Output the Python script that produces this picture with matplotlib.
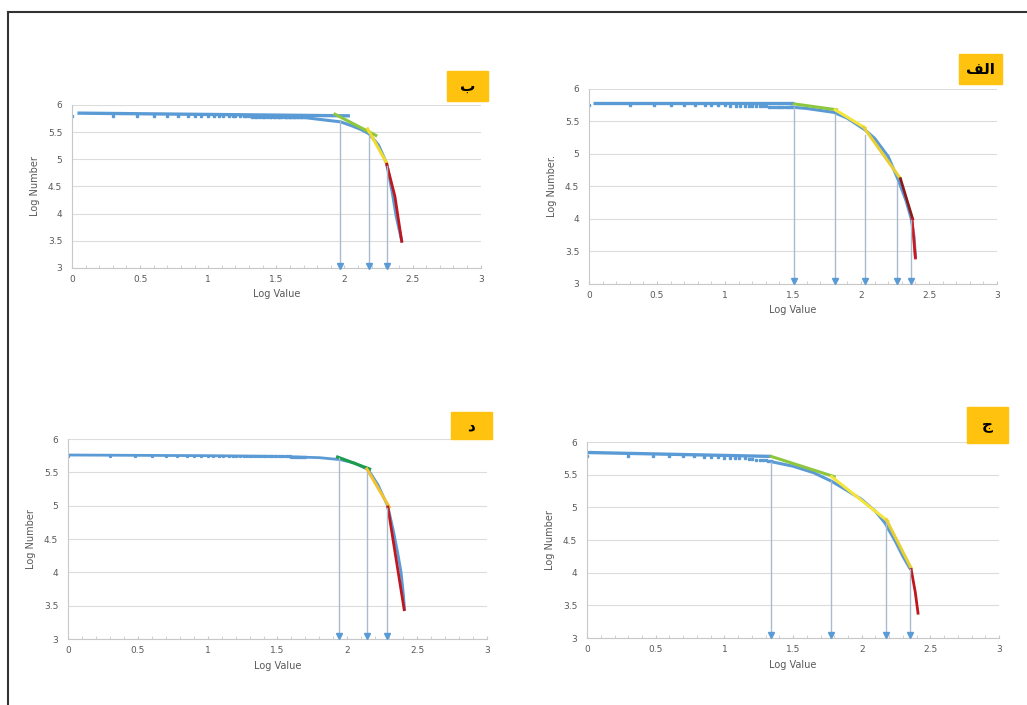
import matplotlib
matplotlib.use('Agg')
import matplotlib.pyplot as plt
from matplotlib.lines import Line2D
from matplotlib.patches import Rectangle

plt.rcParams['font.family'] = ['DejaVu Sans']

BLUE = '#5b9bd5'
ARROW = '#aabbcc'

# shared x positions of the scattered points
dot_x = [0, 0.30, 0.48, 0.60, 0.70, 0.78, 0.85, 0.90, 0.95, 1.00,
         1.04, 1.08, 1.11, 1.15, 1.18, 1.20, 1.23, 1.26, 1.28, 1.30,
         1.32, 1.34, 1.36, 1.38, 1.40, 1.41, 1.43, 1.45, 1.46, 1.48,
         1.49, 1.51, 1.52, 1.53, 1.54, 1.56, 1.57, 1.58, 1.59, 1.60,
         1.61, 1.62, 1.63, 1.64, 1.65, 1.66, 1.67, 1.68, 1.69, 1.70]

# ---- panel ب (top left)
be_dot_y = [5.80, 5.80, 5.80, 5.80, 5.80, 5.80, 5.80, 5.80, 5.79, 5.79,
            5.79, 5.79, 5.79, 5.79, 5.79, 5.79, 5.79, 5.79, 5.79, 5.79,
            5.78, 5.78, 5.78, 5.78, 5.78, 5.78, 5.78, 5.78, 5.78, 5.78,
            5.78, 5.78, 5.78, 5.78, 5.78, 5.78, 5.78, 5.78, 5.78, 5.78,
            5.77, 5.77, 5.77, 5.77, 5.77, 5.77, 5.77, 5.77, 5.77, 5.77]
be_curve_x = [1.70, 1.80, 1.90, 1.97, 2.05, 2.12, 2.18, 2.25, 2.31, 2.35, 2.38, 2.42]
be_curve_y = [5.77, 5.74, 5.71, 5.69, 5.62, 5.55, 5.47, 5.26, 4.92, 4.40, 3.95, 3.50]
be_flat_x = [0.04, 2.04]
be_flat_y = [5.85, 5.80]
be_green_x = [1.93, 2.23]
be_green_y = [5.83, 5.44]
be_yellow_x = [2.17, 2.31]
be_yellow_y = [5.56, 4.93]
be_red_x = [2.31, 2.37, 2.42]
be_red_y = [4.91, 4.32, 3.49]
be_arrow_x = [1.965, 2.178, 2.312]
be_arrow_top = [5.71, 5.46, 4.88]

# ---- panel الف (top right)
alef_dot_y = [5.75, 5.75, 5.75, 5.75, 5.75, 5.75, 5.75, 5.75, 5.75, 5.75,
              5.74, 5.74, 5.74, 5.74, 5.74, 5.74, 5.74, 5.74, 5.74, 5.74,
              5.73, 5.73, 5.73, 5.73, 5.73, 5.73, 5.73, 5.73, 5.73, 5.72,
              5.72]
alef_curve_x = [1.49, 1.60, 1.70, 1.80, 1.90, 2.03, 2.10, 2.20, 2.27, 2.33, 2.37, 2.39, 2.40]
alef_curve_y = [5.72, 5.70, 5.67, 5.64, 5.55, 5.37, 5.24, 4.96, 4.62, 4.29, 4.00, 3.72, 3.42]
alef_flat_x = [0.03, 1.51]
alef_flat_y = [5.78, 5.78]
alef_green_x = [1.51, 1.82]
alef_green_y = [5.77, 5.68]
alef_yellow1_x = [1.81, 2.03]
alef_yellow1_y = [5.68, 5.40]
alef_yellow2_x = [2.02, 2.29]
alef_yellow2_y = [5.41, 4.62]
alef_dred_x = [2.29, 2.38]
alef_dred_y = [4.62, 4.00]
alef_red_x = [2.375, 2.40]
alef_red_y = [4.00, 3.40]
alef_arrow_x = [1.511, 1.811, 2.03, 2.265, 2.366]
alef_arrow_top = [5.72, 5.61, 5.29, 4.57, 3.98]

# ---- panel د (bottom left)
dal_dot_y = [5.75, 5.75, 5.75, 5.75, 5.75, 5.75, 5.75, 5.75, 5.75, 5.75,
             5.75, 5.75, 5.75, 5.75, 5.75, 5.74, 5.74, 5.74, 5.74, 5.74,
             5.74, 5.74, 5.74, 5.74, 5.74, 5.74, 5.74, 5.74, 5.74, 5.74,
             5.74, 5.74, 5.74, 5.74, 5.74, 5.74, 5.74, 5.74, 5.74, 5.73,
             5.73, 5.73, 5.73, 5.73, 5.73, 5.73, 5.73, 5.73, 5.73, 5.73]
dal_curve_x = [0.0, 1.00, 1.50, 1.80, 1.95, 2.05, 2.15, 2.22, 2.29, 2.33, 2.36, 2.385, 2.40, 2.41]
dal_curve_y = [5.76, 5.75, 5.74, 5.72, 5.69, 5.64, 5.54, 5.31, 4.99, 4.62, 4.30, 4.00, 3.70, 3.45]
dal_green_x = [1.93, 2.16]
dal_green_y = [5.73, 5.55]
dal_yellow_x = [2.14, 2.30]
dal_yellow_y = [5.55, 4.98]
dal_red_x = [2.29, 2.407]
dal_red_y = [4.98, 3.44]
dal_arrow_x = [1.941, 2.142, 2.285]
dal_arrow_top = [5.72, 5.51, 4.97]

# ---- panel ج (bottom right)
jim_dot_y = [5.78, 5.78, 5.78, 5.78, 5.78, 5.78, 5.77, 5.77, 5.77, 5.76,
             5.76, 5.76, 5.75, 5.75, 5.74, 5.74, 5.73, 5.73, 5.72, 5.72,
             5.71, 5.71]
jim_curve_x = [1.34, 1.50, 1.65, 1.78, 1.90, 2.00, 2.10, 2.17, 2.25, 2.30, 2.35]
jim_curve_y = [5.70, 5.63, 5.53, 5.40, 5.25, 5.12, 4.94, 4.76, 4.46, 4.25, 4.07]
jim_flat_x = [0.0, 1.34]
jim_flat_y = [5.84, 5.78]
jim_green_x = [1.34, 1.80]
jim_green_y = [5.78, 5.47]
jim_yellow1_x = [1.78, 2.19]
jim_yellow1_y = [5.47, 4.79]
jim_yellow2_x = [2.18, 2.36]
jim_yellow2_y = [4.81, 4.07]
jim_red_x = [2.36, 2.39, 2.41]
jim_red_y = [4.05, 3.70, 3.38]
jim_arrow_x = [1.343, 1.778, 2.177, 2.35]
jim_arrow_top = [5.70, 5.40, 4.76, 4.05]

x_ticks = [0, 0.5, 1, 1.5, 2, 2.5, 3]
y_ticks = [3, 3.5, 4, 4.5, 5, 5.5, 6]

fig = plt.figure(figsize=(10.27, 7.05), dpi=100)


def style(ax, ylabel):
    ax.set_xlim(0, 3)
    ax.set_ylim(3, 6)
    ax.set_xticks(x_ticks)
    ax.set_xticklabels(['0', '0.5', '1', '1.5', '2', '2.5', '3'])
    ax.set_xticks([i / 10 for i in range(31)], minor=True)
    ax.set_yticks(y_ticks)
    ax.set_yticklabels(['3', '3.5', '4', '4.5', '5', '5.5', '6'])
    for s in ['top', 'right']:
        ax.spines[s].set_visible(False)
    for s in ['left', 'bottom']:
        ax.spines[s].set_color('#c8c8c8')
        ax.spines[s].set_linewidth(0.8)
    ax.grid(axis='y', color='#dcdcdc', lw=0.8)
    ax.set_axisbelow(True)
    ax.tick_params(axis='x', which='both', direction='in', length=2.5,
                   color='#c8c8c8', labelsize=6.5, labelcolor='#595959', pad=5)
    ax.tick_params(axis='y', length=0, labelsize=6.5, labelcolor='#595959', pad=7)
    ax.set_xlabel('Log Value', fontsize=7, color='#595959', labelpad=4)
    ax.set_ylabel(ylabel, fontsize=7, color='#595959', labelpad=6)


def arrows(ax, xs, tops):
    for x, t in zip(xs, tops):
        ax.plot([x, x], [t, 3.05], color=ARROW, lw=1.0, zorder=2)
        ax.plot([x], [3.045], marker='v', ms=5, color=BLUE, clip_on=False, zorder=3)


def label_box(x0, y0, x1, y1, txt):
    # pixel box -> figure coords
    W, H = 1027, 705
    fig.add_artist(Rectangle((x0 / W, 1 - y1 / H), (x1 - x0) / W, (y1 - y0) / H,
                             transform=fig.transFigure, color='#ffc20e', zorder=5))
    fig.text((x0 + x1) / 2 / W, 1 - (y0 + y1) / 2 / H, txt, ha='center', va='center',
             fontsize=11, fontweight='bold', color='black', zorder=6)


# ب
ax = fig.add_axes([0.0701, 0.6199, 0.398, 0.2312])
style(ax, 'Log Number')
ax.plot(dot_x, be_dot_y, ls='none', marker='s', ms=1.6, color=BLUE)
ax.plot(be_curve_x, be_curve_y, color=BLUE, lw=2.2)
ax.plot(be_flat_x, be_flat_y, color=BLUE, lw=2.4, solid_capstyle='butt')
ax.plot(be_green_x, be_green_y, color='#8dc63f', lw=2.2)
ax.plot(be_yellow_x, be_yellow_y, color='#f2dc2a', lw=2.2)
ax.plot(be_red_x, be_red_y, color='#c0161d', lw=2.0)
arrows(ax, be_arrow_x, be_arrow_top)

# الف
ax = fig.add_axes([0.5735, 0.5972, 0.3973, 0.2766])
style(ax, 'Log Number.')
ax.plot(dot_x[:31], alef_dot_y, ls='none', marker='s', ms=1.6, color=BLUE)
ax.plot(alef_curve_x, alef_curve_y, color=BLUE, lw=2.2)
ax.plot(alef_flat_x, alef_flat_y, color=BLUE, lw=2.4, solid_capstyle='butt')
ax.plot(alef_green_x, alef_green_y, color='#8dc63f', lw=2.2)
ax.plot(alef_yellow1_x, alef_yellow1_y, color='#f5e43a', lw=2.2)
ax.plot(alef_yellow2_x, alef_yellow2_y, color='#e9cf36', lw=2.2)
ax.plot(alef_dred_x, alef_dred_y, color='#8b1a1a', lw=2.0)
ax.plot(alef_red_x, alef_red_y, color='#d0161d', lw=2.0)
arrows(ax, alef_arrow_x, alef_arrow_top)

# د
ax = fig.add_axes([0.0662, 0.0936, 0.408, 0.2837])
style(ax, 'Log Number')
ax.plot(dot_x, dal_dot_y, ls='none', marker='s', ms=1.3, color=BLUE)
ax.plot(dal_curve_x, dal_curve_y, color=BLUE, lw=2.0)
ax.plot(dal_green_x, dal_green_y, color='#1e9b4b', lw=2.2)
ax.plot(dal_yellow_x, dal_yellow_y, color='#f2c230', lw=2.2)
ax.plot(dal_red_x, dal_red_y, color='#c0161d', lw=2.0)
arrows(ax, dal_arrow_x, dal_arrow_top)

# ج
ax = fig.add_axes([0.5716, 0.0950, 0.4012, 0.2780])
style(ax, 'Log Number')
ax.plot(dot_x[:22], jim_dot_y, ls='none', marker='s', ms=1.6, color=BLUE)
ax.plot(jim_curve_x, jim_curve_y, color=BLUE, lw=2.2)
ax.plot(jim_flat_x, jim_flat_y, color=BLUE, lw=2.4, solid_capstyle='butt')
ax.plot(jim_green_x, jim_green_y, color='#8dc63f', lw=2.2)
ax.plot(jim_yellow1_x, jim_yellow1_y, color='#f5e43a', lw=2.2)
ax.plot(jim_yellow2_x, jim_yellow2_y, color='#e9cf36', lw=2.2)
ax.plot(jim_red_x, jim_red_y, color='#c0161d', lw=2.0)
arrows(ax, jim_arrow_x, jim_arrow_top)

# panel letters (الف written in shaped visual order so it renders correctly)
label_box(447, 71, 488, 101, '\u0628')
label_box(959, 54, 1002, 84, '\uFED2\uFEDF\uFE8D')
label_box(451, 412, 492, 439, '\u062F')
label_box(967, 407, 1008, 443, '\u062C')

# outer frame (left and top edges visible)
fig.add_artist(Line2D([7.5 / 1027, 7.5 / 1027], [0, 1 - 11.5 / 705], transform=fig.transFigure,
                      color='#333333', lw=1.5))
fig.add_artist(Line2D([7.5 / 1027, 1], [1 - 11.5 / 705, 1 - 11.5 / 705], transform=fig.transFigure,
                      color='#333333', lw=1.5))

fig.savefig('out.png', dpi=100)
